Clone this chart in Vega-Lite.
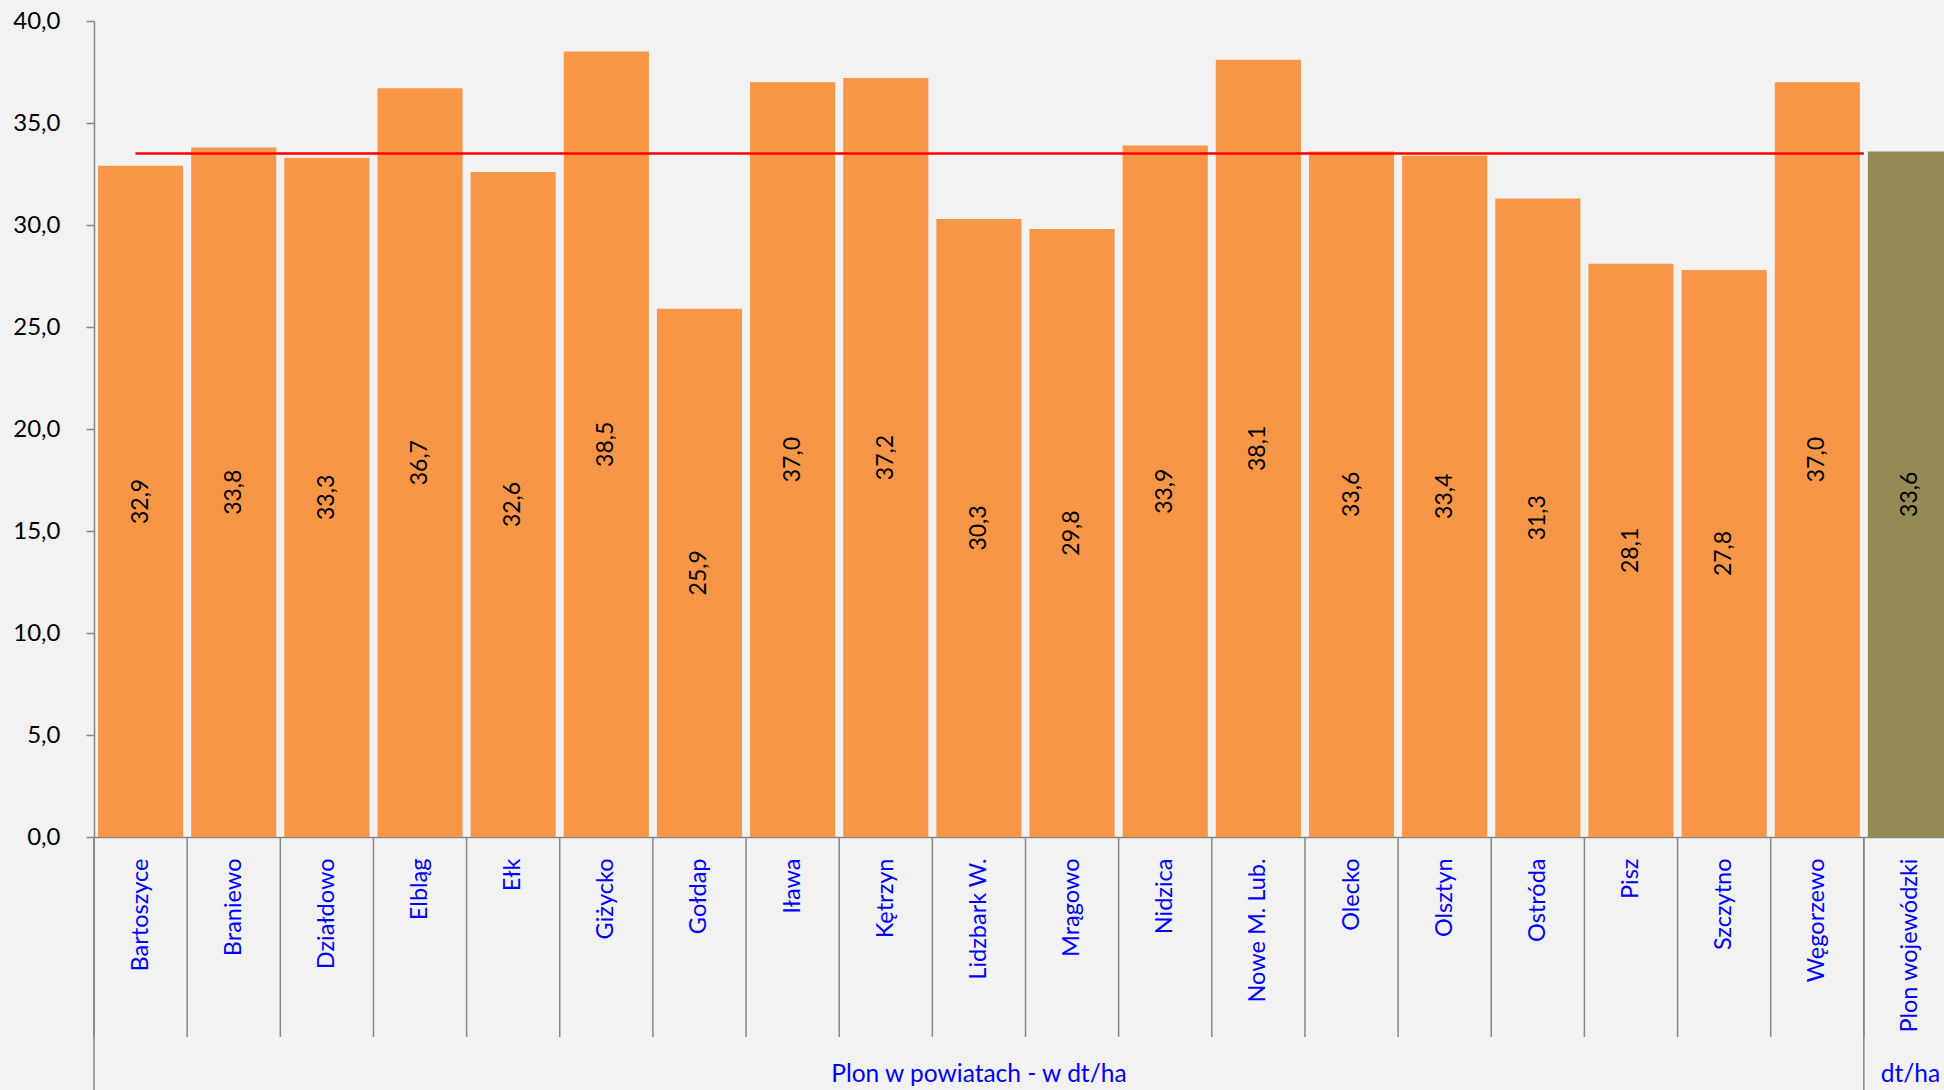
{
  "$schema": "https://vega.github.io/schema/vega-lite/v6.json",
  "autosize": {"type": "none"},
  "padding": {"left": 94, "top": 21, "right": 0, "bottom": 253},
  "width": 1850,
  "height": 816,
  "background": "#f2f2f2",
  "config": {
    "view": {"stroke": null},
    "font": "Lato",
    "locale": {"number": {"decimal": ",", "thousands": " ", "grouping": [3], "currency": ["", " zł"]}}
  },
  "datasets": {
    "bars": [
      {"cat": "Bartoszyce", "value": 32.9, "typ": "powiat"},
      {"cat": "Braniewo", "value": 33.8, "typ": "powiat"},
      {"cat": "Działdowo", "value": 33.3, "typ": "powiat"},
      {"cat": "Elbląg", "value": 36.7, "typ": "powiat"},
      {"cat": "Ełk", "value": 32.6, "typ": "powiat"},
      {"cat": "Giżycko", "value": 38.5, "typ": "powiat"},
      {"cat": "Gołdap", "value": 25.9, "typ": "powiat"},
      {"cat": "Iława", "value": 37.0, "typ": "powiat"},
      {"cat": "Kętrzyn", "value": 37.2, "typ": "powiat"},
      {"cat": "Lidzbark W.", "value": 30.3, "typ": "powiat"},
      {"cat": "Mrągowo", "value": 29.8, "typ": "powiat"},
      {"cat": "Nidzica", "value": 33.9, "typ": "powiat"},
      {"cat": "Nowe M. Lub.", "value": 38.1, "typ": "powiat"},
      {"cat": "Olecko", "value": 33.6, "typ": "powiat"},
      {"cat": "Olsztyn", "value": 33.4, "typ": "powiat"},
      {"cat": "Ostróda", "value": 31.3, "typ": "powiat"},
      {"cat": "Pisz", "value": 28.1, "typ": "powiat"},
      {"cat": "Szczytno", "value": 27.8, "typ": "powiat"},
      {"cat": "Węgorzewo", "value": 37.0, "typ": "powiat"},
      {"cat": "Plon wojewódzki", "value": 33.6, "typ": "wojewodztwo"}
    ],
    "edges": [
      {"cat": "Bartoszyce"},
      {"cat": "Plon wojewódzki"}
    ],
    "avg": [
      {"cat": "Bartoszyce", "cat2": "Plon wojewódzki", "value": 33.5}
    ],
    "groups": [
      {"cat": "Lidzbark W.", "txt": "Plon w powiatach - w dt/ha"},
      {"cat": "Plon wojewódzki", "txt": "dt/ha"}
    ]
  },
  "resolve": {"scale": {"y": "independent"}},
  "layer": [
    {
      "data": {"name": "bars"},
      "mark": {"type": "bar"},
      "encoding": {
        "x": {
          "field": "cat", "type": "nominal", "sort": null, "title": null,
          "scale": {"domain": ["Bartoszyce","Braniewo","Działdowo","Elbląg","Ełk","Giżycko","Gołdap","Iława","Kętrzyn","Lidzbark W.","Mrągowo","Nidzica","Nowe M. Lub.","Olecko","Olsztyn","Ostróda","Pisz","Szczytno","Węgorzewo","Plon wojewódzki"], "range": [0, 1863], "paddingInner": 0.086, "paddingOuter": 0.043},
          "axis": {
            "labelAngle": -90, "labelColor": "#0000ff", "labelFontSize": 23.5, "labelFont": "Lato",
            "labelPadding": 21, "ticks": false, "domainColor": "#868686", "domainWidth": 1.5, "title": null, "grid": false
          }
        },
        "y": {
          "field": "value", "type": "quantitative", "title": null,
          "scale": {"domain": [0, 40], "nice": false, "zero": true},
          "axis": {
            "values": [0, 5, 10, 15, 20, 25, 30, 35, 40], "format": ".1f",
            "labelFontSize": 24, "labelFont": "Lato", "labelColor": "#000000",
            "tickColor": "#868686", "tickSize": 8, "tickWidth": 1.5, "labelPadding": 26,
            "domainColor": "#868686", "domainWidth": 1.5, "grid": false
          }
        },
        "color": {
          "field": "typ", "type": "nominal",
          "scale": {"domain": ["powiat", "wojewodztwo"], "range": ["#f79646", "#948a54"]},
          "legend": null
        }
      }
    },
    {
      "data": {"name": "bars"},
      "mark": {"type": "rule", "color": "#868686", "strokeWidth": 1.5},
      "encoding": {
        "x": {"field": "cat", "type": "nominal", "sort": null, "title": null, "bandPosition": -0.047},
        "y": {"datum": 0, "scale": {"domain": [0, 40], "nice": false}, "axis": null},
        "y2": {"datum": -9.8}
      }
    },
    {
      "data": {"name": "edges"},
      "mark": {"type": "rule", "color": "#868686", "strokeWidth": 1.5},
      "encoding": {
        "x": {"field": "cat", "type": "nominal", "sort": null, "title": null, "bandPosition": -0.047},
        "y": {"datum": 0, "scale": {"domain": [0, 40], "nice": false}, "axis": null},
        "y2": {"datum": -12.6}
      }
    },
    {
      "data": {"name": "avg"},
      "mark": {"type": "rule", "color": "#ff0000", "strokeWidth": 2.5},
      "encoding": {
        "x": {"field": "cat", "type": "nominal", "sort": null, "title": null, "bandPosition": 0.44},
        "x2": {"field": "cat2", "bandPosition": -0.047},
        "y": {"field": "value", "type": "quantitative", "scale": {"domain": [0, 40], "nice": false}, "axis": null}
      }
    },
    {
      "data": {"name": "bars"},
      "mark": {"type": "text", "angle": 270, "align": "center", "baseline": "middle", "fontSize": 23, "font": "Lato", "color": "#000000"},
      "encoding": {
        "x": {"field": "cat", "type": "nominal", "sort": null, "title": null},
        "y": {"field": "value", "type": "quantitative", "scale": {"domain": [0, 80], "nice": false}, "axis": null},
        "text": {"field": "value", "type": "quantitative", "format": ".1f"}
      }
    },
    {
      "data": {"name": "groups"},
      "mark": {"type": "text", "align": "center", "baseline": "middle", "fontSize": 24.5, "font": "Lato", "color": "#0000ff"},
      "encoding": {
        "x": {"field": "cat", "type": "nominal", "sort": null, "title": null},
        "y": {"datum": -11.65, "scale": {"domain": [0, 40], "nice": false}, "axis": null},
        "text": {"field": "txt"}
      }
    }
  ]
}
